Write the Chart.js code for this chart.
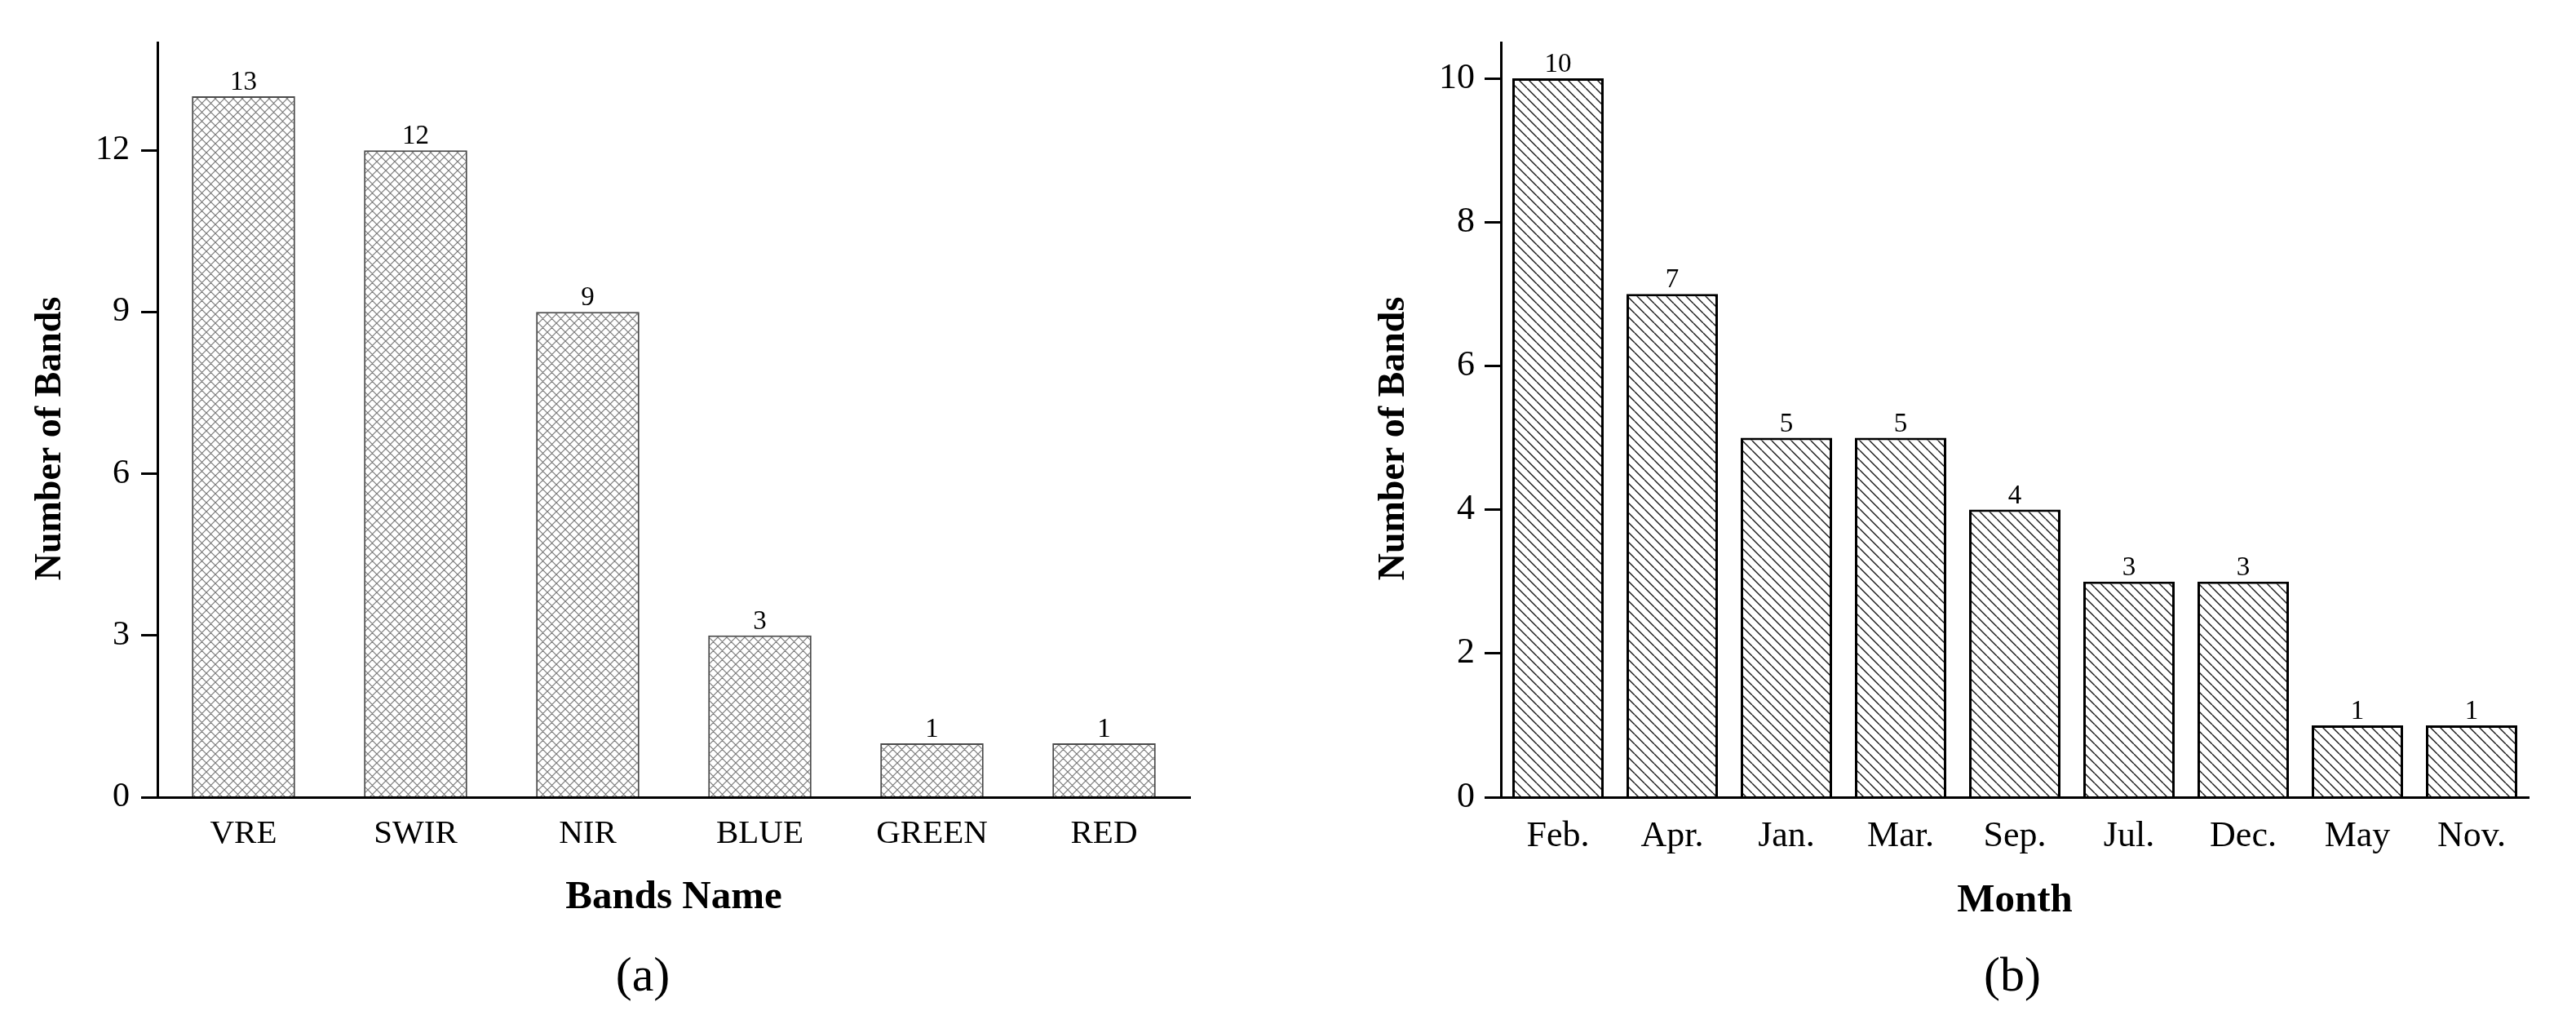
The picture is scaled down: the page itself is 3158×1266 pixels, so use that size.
<!DOCTYPE html>
<html>
<head>
<meta charset="utf-8">
<script src="https://cdn.jsdelivr.net/npm/chart.js@4.4.1/dist/chart.umd.min.js"></script>
<style>
  body { margin: 0; background: #fff; width: 3158px; height: 1266px; position: relative; overflow: hidden; }
  canvas { position: absolute; top: 0; }
  .cap { position: absolute; top: 1164px; width: 200px; text-align: center;
         font: 60px/60px "Liberation Serif", "Times New Roman", serif; color: #000; }
</style>
</head>
<body>
<canvas id="bandChart" width="1560" height="1150" style="left:0"></canvas>
<canvas id="monthChart" width="1598" height="1150" style="left:1560px"></canvas>
<div class="cap" style="left:688px">(a)</div>
<div class="cap" style="left:2367px">(b)</div>
<script>
// data
const bandNames = ["VRE", "SWIR", "NIR", "BLUE", "GREEN", "RED"];
const bandCounts = [13, 12, 9, 3, 1, 1];
const bandTicks = [0, 3, 6, 9, 12];

const monthNames = ["Feb.", "Apr.", "Jan.", "Mar.", "Sep.", "Jul.", "Dec.", "May", "Nov."];
const monthCounts = [10, 7, 5, 5, 4, 3, 3, 1, 1];
const monthTicks = [0, 2, 4, 6, 8, 10];

const serif = '"Liberation Serif", "Times New Roman", serif';
Chart.defaults.font.family = serif;
Chart.defaults.color = '#000';

// hatch fill for the bars
function hatch(size, color, width, cross) {
  const c = document.createElement('canvas');
  c.width = c.height = size;
  const g = c.getContext('2d');
  g.fillStyle = '#fff';
  g.fillRect(0, 0, size, size);
  g.strokeStyle = color;
  g.lineWidth = width;
  g.beginPath();
  for (let k = -1; k <= 1; k++) {
    g.moveTo(k * size, 0); g.lineTo(k * size + size, size);
    if (cross) { g.moveTo(k * size + size, 0); g.lineTo(k * size, size); }
  }
  g.stroke();
  return g.createPattern(c, 'repeat');
}

// numbers on top of the bars
const valueLabels = {
  id: 'valueLabels',
  afterDatasetsDraw(chart) {
    const ctx = chart.ctx;
    const data = chart.data.datasets[0].data;
    ctx.save();
    ctx.font = '33px ' + serif;
    ctx.fillStyle = '#000';
    ctx.textAlign = 'center';
    ctx.textBaseline = 'alphabetic';
    chart.getDatasetMeta(0).data.forEach((bar, i) => {
      ctx.fillText(String(data[i]), bar.x, bar.y - 8);
    });
    ctx.restore();
  }
};

function makeChart(id, labels, values, tickValues, o) {
  return new Chart(document.getElementById(id), {
    type: 'bar',
    data: {
      labels: labels,
      datasets: [{
        data: values,
        backgroundColor: o.fill,
        borderColor: o.border,
        borderWidth: o.borderWidth,
        categoryPercentage: 1,
        barPercentage: o.barPct
      }]
    },
    options: {
      responsive: false,
      animation: false,
      layout: { padding: { left: 0, top: 52, right: o.padRight, bottom: 0 } },
      plugins: { legend: { display: false }, tooltip: { enabled: false } },
      scales: {
        x: {
          grid: { display: false },
          border: { display: true, color: '#000', width: 3, z: 1 },
          ticks: { font: { size: o.xTickSize }, padding: o.xTickPad, autoSkip: false, maxRotation: 0 },
          title: { display: true, text: o.xTitle, font: { size: 49, weight: 'bold' },
                   padding: { top: 0, bottom: o.xTitlePad } },
          afterFit: s => { s.height = 173; }
        },
        y: {
          min: 0,
          max: o.yMax,
          afterBuildTicks: s => { s.ticks = tickValues.map(v => ({ value: v })); },
          grid: { display: true, drawOnChartArea: false, drawTicks: true, tickLength: 20,
                  tickWidth: 3, tickColor: '#000' },
          border: { display: true, color: '#000', width: 3, z: 1 },
          ticks: { font: { size: o.yTickSize }, padding: o.yTickPad },
          title: { display: true, text: 'Number of Bands\u00a0\u00a0\u00a0\u00a0',
                   font: { size: 46, weight: 'bold' }, padding: { top: o.yTitlePad, bottom: 0 } },
          afterFit: s => { s.width = o.yWidth; }
        }
      }
    },
    plugins: [valueLabels]
  });
}

makeChart('bandChart', bandNames, bandCounts, bandTicks, {
  fill: hatch(11, '#7a7a7a', 1.2, true),
  border: '#4a4a4a', borderWidth: 2, barPct: 0.6,
  padRight: 101, yWidth: 193, yMax: 14,
  xTitle: 'Bands Name', xTickSize: 41, xTickPad: 13, xTitlePad: 20,
  yTickSize: 42, yTickPad: 14, yTitlePad: 35
});

makeChart('monthChart', monthNames, monthCounts, monthTicks, {
  fill: hatch(12, '#1a1a1a', 1.4, false),
  border: '#000', borderWidth: 3, barPct: 0.8,
  padRight: 58, yWidth: 280, yMax: 10.5,
  xTitle: 'Month', xTickSize: 44, xTickPad: 14, xTitlePad: 16,
  yTickSize: 44, yTickPad: 12, yTitlePad: 122
});
</script>
</body>
</html>
